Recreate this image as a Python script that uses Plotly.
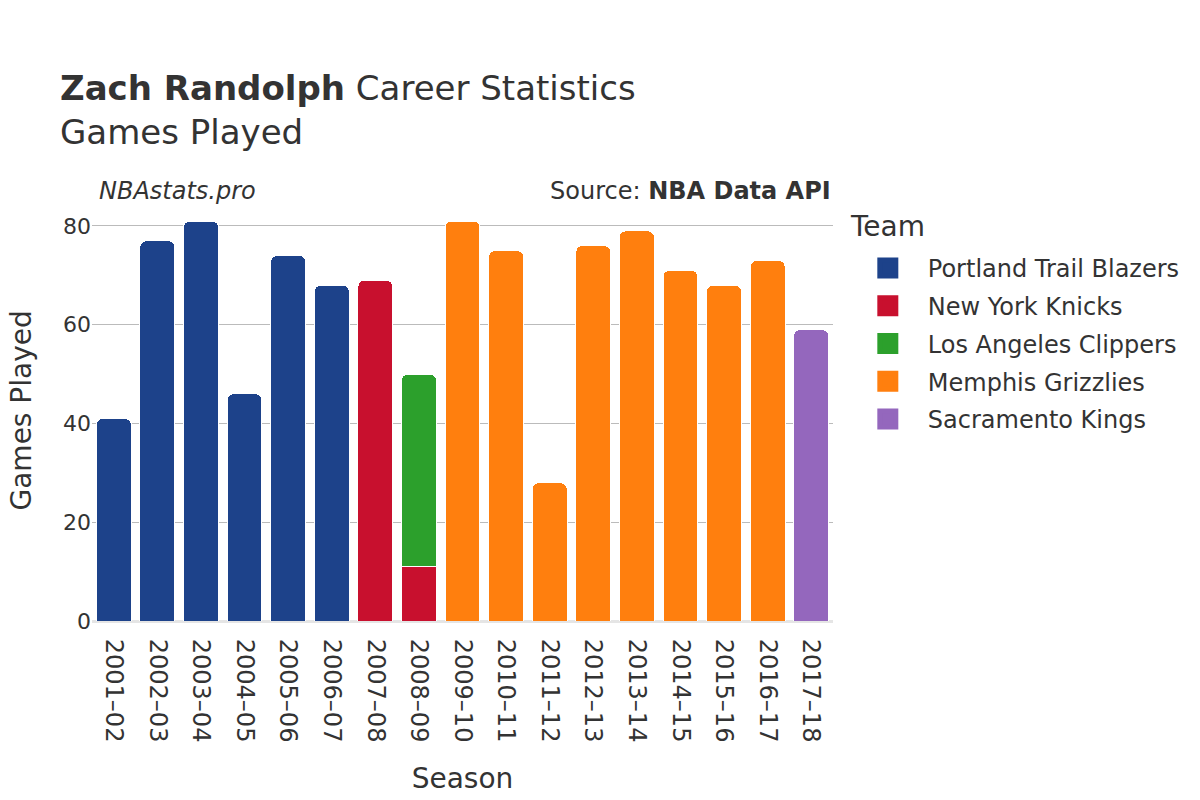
import plotly.graph_objects as go

seasons = ["2001–02", "2002–03", "2003–04", "2004–05", "2005–06", "2006–07", "2007–08", "2008–09",
           "2009–10", "2010–11", "2011–12", "2012–13", "2013–14", "2014–15", "2015–16", "2016–17", "2017–18"]

teams = ["Portland Trail Blazers", "New York Knicks", "Los Angeles Clippers", "Memphis Grizzlies", "Sacramento Kings"]
colors = ["#1D428A", "#C8102E", "#2CA02C", "#FF7F0E", "#9467BD"]

por_seasons = ["2001–02", "2002–03", "2003–04", "2004–05", "2005–06", "2006–07"]
por_games = [41, 77, 81, 46, 74, 68]
nyk_seasons = ["2007–08", "2008–09"]
nyk_games = [69, 11]
lac_seasons = ["2008–09"]
lac_games = [39]
mem_seasons = ["2009–10", "2010–11", "2011–12", "2012–13", "2013–14", "2014–15", "2015–16", "2016–17"]
mem_games = [81, 75, 28, 76, 79, 71, 68, 73]
sac_seasons = ["2017–18"]
sac_games = [59]

series = [(por_seasons, por_games), (nyk_seasons, nyk_games), (lac_seasons, lac_games),
          (mem_seasons, mem_games), (sac_seasons, sac_games)]

FONT = "DejaVu Sans"
TXT = "#333333"
PLOT_W = 741
PLOT_H = 421
fig = go.Figure()
for name, color, (xs, ys) in zip(teams, colors, series):
    fig.add_trace(go.Bar(x=xs, y=ys, name=name, showlegend=False, legendgroup=name,
                         marker=dict(color=color, line=dict(color="white", width=1))))
# legend proxies (no data drawn)
for name, color in zip(teams, colors):
    fig.add_trace(go.Scatter(x=[None], y=[None], mode="markers", name=name, legendgroup=name,
                             marker=dict(symbol="square", size=16, color=color,
                                         line=dict(color=color, width=5))))

fig.update_layout(
    width=1200, height=800,
    barmode="stack",
    barcornerradius=6,
    bargap=0.2,
    font=dict(family=FONT, size=22, color=TXT),
    paper_bgcolor="white", plot_bgcolor="white",
    margin=dict(l=84, r=375, t=192, b=187, autoexpand=False),
    title=dict(text="<b>Zach Randolph</b> Career Statistics<br>Games Played",
               x=52 / 1200, xanchor="left", y=0.885, yanchor="top",
               font=dict(family=FONT, size=34, color=TXT)),
    legend=dict(x=1.02, y=1 - 46 / PLOT_H, yanchor="top",
                font=dict(size=24), tracegroupgap=3.5, traceorder="grouped", itemwidth=70),
    xaxis=dict(title=dict(text="Season", font=dict(size=28), standoff=26), tickangle=90,
               categoryorder="array", categoryarray=seasons, showgrid=False,
               ticks="outside", ticklen=12, tickcolor="rgba(0,0,0,0)",
               tickfont=dict(size=24), automargin=False),
    yaxis=dict(showgrid=True,
               gridcolor="#BBBBBB", gridwidth=1, zeroline=True, zerolinecolor="#E5E5E5",
               zerolinewidth=3, tickfont=dict(size=22), dtick=20, automargin=False),
    annotations=[
        dict(text="<i>NBAstats.pro</i>", xref="paper", yref="paper", x=5 / PLOT_W, y=1.021,
             xanchor="left", yanchor="middle", showarrow=False, font=dict(size=24, color=TXT)),
        dict(text="Source: <b>NBA Data API</b>", xref="paper", yref="paper", x=1.0, y=1.021,
             xanchor="right", yanchor="middle", showarrow=False, font=dict(size=24, color=TXT)),
        dict(text="Games Played", xref="paper", yref="paper", x=(13 - 84) / PLOT_W, y=0.5,
             xanchor="center", yanchor="middle", textangle=-90, showarrow=False, borderpad=0,
             font=dict(size=28, color=TXT)),
        dict(text="Team", xref="paper", yref="paper", x=(840 - 84) / PLOT_W, y=1 - 26 / PLOT_H,
             xanchor="left", yanchor="middle", showarrow=False, font=dict(size=28, color=TXT)),
    ],
)

fig.write_html("out.html")
